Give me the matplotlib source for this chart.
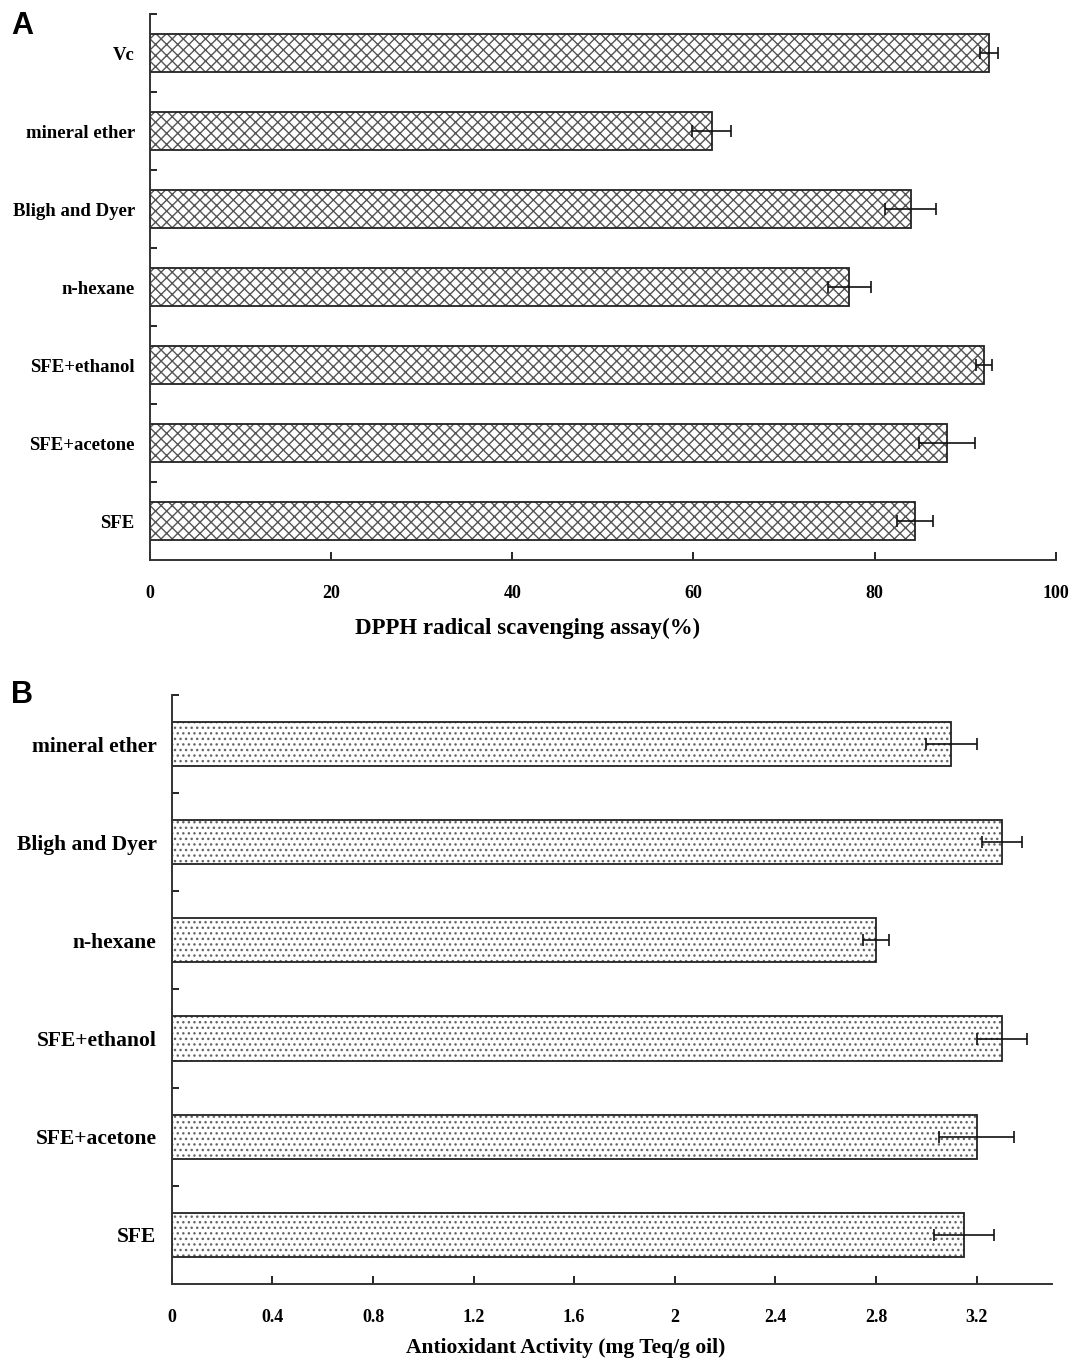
import matplotlib.pyplot as plt

plt.rcParams['font.family'] = 'Liberation Serif'
plt.rcParams['font.weight'] = 'bold'
plt.rcParams['axes.labelweight'] = 'bold'
plt.rcParams['hatch.linewidth'] = 1.0

# panel A: DPPH radical scavenging (%)
labels_a = ['SFE', 'SFE+acetone', 'SFE+ethanol', 'n-hexane', 'Bligh and Dyer', 'mineral ether', 'Vc']
values_a = [84.5, 88.0, 92.1, 77.2, 84.0, 62.0, 92.6]
errors_a = [2.0, 3.1, 0.9, 2.4, 2.8, 2.2, 1.0]
ticks_a = [0, 20, 40, 60, 80, 100]

# panel B: antioxidant activity (mg Teq/g oil)
labels_b = ['SFE', 'SFE+acetone', 'SFE+ethanol', 'n-hexane', 'Bligh and Dyer', 'mineral ether']
values_b = [3.15, 3.20, 3.30, 2.80, 3.30, 3.10]
errors_b = [0.12, 0.15, 0.10, 0.05, 0.08, 0.10]
ticks_b = [0, 0.4, 0.8, 1.2, 1.6, 2, 2.4, 2.8, 3.2]
tick_labels_b = ['0', '0.4', '0.8', '1.2', '1.6', '2', '2.4', '2.8', '3.2']

fig = plt.figure(figsize=(10.74, 13.6), dpi=100)
ax_a = fig.add_axes([0.1397, 0.588, 0.8433, 0.4017])
ax_b = fig.add_axes([0.160, 0.0559, 0.8195, 0.4331])


def draw_panel(ax, labels, values, errors, height, hatch, hatch_color, fs):
    pos = list(range(len(labels)))
    ax.barh(pos, values, height=height, color='white', edgecolor=hatch_color,
            hatch=hatch, linewidth=0, zorder=1)
    ax.barh(pos, values, height=height, color='none', edgecolor='#222222',
            linewidth=1.3, zorder=2)
    ax.errorbar(values, pos, xerr=errors, fmt='none', ecolor='#111111',
                elinewidth=1.2, capsize=4, capthick=1.2, zorder=3)
    ax.set_ylim(-0.5, len(labels) - 0.5)
    ax.set_yticks([p + 0.5 for p in pos[:-1]] + [len(labels) - 0.5])
    ax.set_yticklabels([])
    ax.set_yticks(pos, minor=True)
    ax.set_yticklabels(labels, minor=True, fontsize=fs)
    ax.tick_params(axis='y', which='minor', length=0, pad=11)
    ax.tick_params(axis='y', which='major', direction='in', length=5, width=1.2)
    ax.tick_params(axis='x', direction='in', length=6, width=1.2, pad=18, labelsize=13)
    for s in ['top', 'right']:
        ax.spines[s].set_visible(False)
    for s in ['left', 'bottom']:
        ax.spines[s].set_linewidth(1.4)
        ax.spines[s].set_color('#333333')


draw_panel(ax_a, labels_a, values_a, errors_a, 0.49, 'xxx', '#555555', 13.5)
ax_a.set_xlim(0, 100)
ax_a.set_xticks(ticks_a)
ax_a.set_xlabel('DPPH radical scavenging assay(%)', fontsize=16.5, labelpad=11, x=0.417)

draw_panel(ax_b, labels_b, values_b, errors_b, 0.45, '...', '#666666', 15.5)
ax_b.set_xlim(0, 3.5)
ax_b.set_xticks(ticks_b)
ax_b.set_xticklabels(tick_labels_b)
ax_b.set_xlabel('Antioxidant Activity (mg Teq/g oil)', fontsize=15.5, labelpad=9, x=0.447)

fig.text(0.010, 0.975, 'A', fontsize=22, fontweight='bold', family='Liberation Sans')
fig.text(0.010, 0.483, 'B', fontsize=22, fontweight='bold', family='Liberation Sans')

fig.savefig('out.png', dpi=100)
